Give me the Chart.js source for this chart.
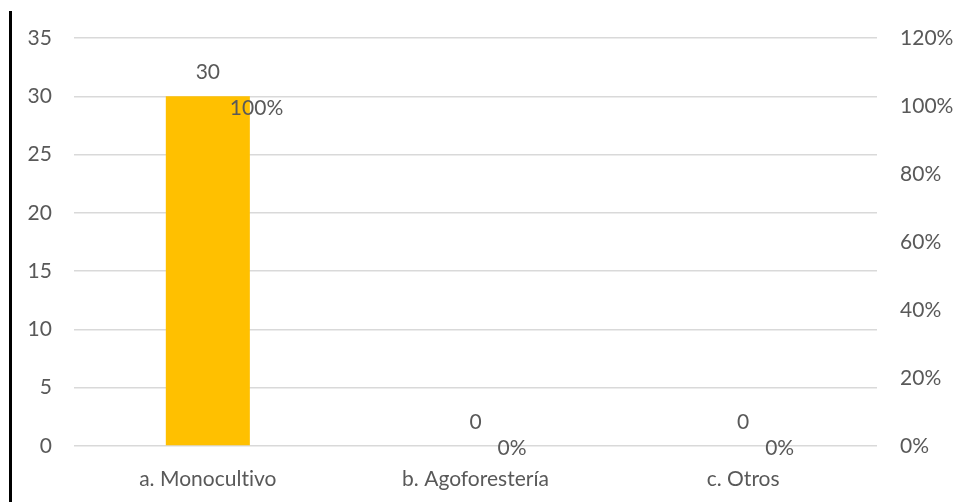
<!DOCTYPE html>
<html>
<head>
<meta charset="utf-8">
<script src="https://cdn.jsdelivr.net/npm/chart.js@4/dist/chart.umd.min.js"></script>
<style>
  html, body { margin: 0; padding: 0; background: #ffffff; }
  #wrap { width: 958px; height: 502px; position: relative; }
</style>
</head>
<body>
<div id="wrap"><canvas id="chart" width="958" height="502"></canvas></div>
<script>
// Sistema de cultivo: número de productores y porcentaje
const categories = ['a. Monocultivo', 'b. Agoforestería', 'c. Otros'];
const counts = [30, 0, 0];
const shares = [1.0, 0, 0];
const countTicks = [0, 5, 10, 15, 20, 25, 30, 35];
const shareTicks = [0, 0.2, 0.4, 0.6, 0.8, 1.0, 1.2];

const FONT = 'Lato';
const SIZE = 21;
const TEXT = '#595959';
const GRID = '#d9d9d9';

const pct = v => Math.round(v * 100) + '%';

// Value labels above bars and percentage labels beside the points
const labelPlugin = {
  id: 'labels',
  afterDatasetsDraw(chart) {
    const ctx = chart.ctx;
    ctx.save();
    ctx.fillStyle = TEXT;
    ctx.font = SIZE + 'px ' + FONT;
    const bars = chart.getDatasetMeta(0).data;
    bars.forEach((el, i) => {
      ctx.textAlign = 'center';
      ctx.textBaseline = 'alphabetic';
      ctx.fillText(String(counts[i]), el.x, el.y - 17);
    });
    const pts = chart.getDatasetMeta(1).data;
    pts.forEach((el, i) => {
      ctx.textAlign = 'left';
      ctx.textBaseline = 'middle';
      ctx.fillText(pct(shares[i]), el.x + 22, el.y + 2);
    });
    ctx.restore();
  }
};

// Dark vertical rule along the left edge; plain glyphs without ligatures
const edgePlugin = {
  id: 'edge',
  beforeDraw(chart) {
    const ctx = chart.ctx;
    if ('letterSpacing' in ctx) ctx.letterSpacing = '0.01px';
    ctx.save();
    ctx.fillStyle = '#000000';
    ctx.fillRect(9, 11, 3, chart.height - 11);
    ctx.restore();
  }
};

new Chart(document.getElementById('chart'), {
  data: {
    labels: categories,
    datasets: [
      {
        type: 'bar',
        data: counts,
        backgroundColor: '#FFC000',
        yAxisID: 'y',
        categoryPercentage: 1,
        barPercentage: 0.314,
        order: 2
      },
      {
        type: 'line',
        data: shares,
        yAxisID: 'y1',
        showLine: false,
        pointRadius: 0,
        pointHoverRadius: 0,
        borderColor: 'rgba(0,0,0,0)',
        backgroundColor: 'rgba(0,0,0,0)',
        order: 1
      }
    ]
  },
  options: {
    responsive: false,
    animation: false,
    events: [],
    layout: { padding: { top: 38, left: 0, right: 0, bottom: 0 } },
    plugins: {
      legend: { display: false },
      tooltip: { enabled: false }
    },
    scales: {
      x: {
        grid: { display: false },
        border: { display: false },
        ticks: { color: TEXT, font: { family: FONT, size: SIZE }, padding: 13, maxRotation: 0 },
        afterFit(axis) { axis.height = 56; }
      },
      y: {
        position: 'left',
        min: 0,
        max: 35,
        afterBuildTicks(axis) { axis.ticks = countTicks.map(v => ({ value: v })); },
        grid: { color: GRID, lineWidth: 1.5, drawTicks: false },
        border: { display: false },
        ticks: { color: TEXT, font: { family: FONT, size: SIZE }, padding: 22 },
        afterFit(axis) { axis.width = 74; }
      },
      y1: {
        position: 'right',
        min: 0,
        max: 1.2,
        afterBuildTicks(axis) { axis.ticks = shareTicks.map(v => ({ value: v })); },
        grid: { display: false, drawTicks: false },
        border: { display: false },
        ticks: { color: TEXT, font: { family: FONT, size: SIZE }, padding: 23, callback: v => pct(v) },
        afterFit(axis) { axis.width = 81; }
      }
    }
  },
  plugins: [edgePlugin, labelPlugin]
});
</script>
</body>
</html>
